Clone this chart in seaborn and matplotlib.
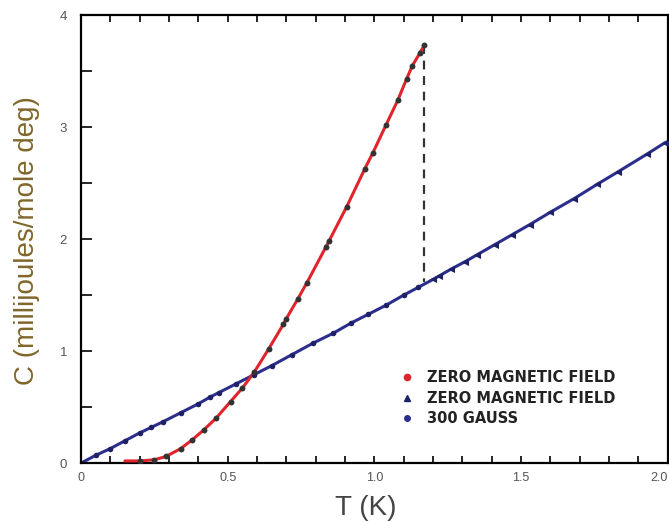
import matplotlib

matplotlib.use("Agg")
import matplotlib.pyplot as plt
import pandas as pd
import seaborn as sns
from matplotlib.lines import Line2D
from matplotlib.ticker import MultipleLocator

# superconducting state, zero magnetic field (red curve)
sc_T = [0.15, 0.20, 0.25, 0.29, 0.34, 0.38, 0.42, 0.46, 0.51, 0.55, 0.59, 0.64,
        0.69, 0.70, 0.74, 0.77, 0.835, 0.845, 0.906, 0.968, 0.995, 1.04, 1.08,
        1.11, 1.13, 1.155, 1.17]
sc_C = [0.02, 0.02, 0.03, 0.06, 0.13, 0.21, 0.30, 0.40, 0.55, 0.67, 0.81, 1.02,
        1.24, 1.29, 1.47, 1.61, 1.93, 1.98, 2.29, 2.63, 2.77, 3.02, 3.24,
        3.43, 3.55, 3.66, 3.73]

# normal state, 300 gauss (dots on the blue line)
g300_T = [0.05, 0.10, 0.15, 0.20, 0.24, 0.28, 0.34, 0.40, 0.44, 0.47, 0.53, 0.59,
          0.65, 0.72, 0.79, 0.86, 0.92, 0.98, 1.04, 1.10, 1.15]
g300_C = [0.07, 0.13, 0.20, 0.27, 0.32, 0.37, 0.45, 0.53, 0.59, 0.63, 0.71, 0.79,
          0.87, 0.97, 1.07, 1.16, 1.25, 1.33, 1.41, 1.50, 1.57]

# normal state, zero field above Tc (triangles on the blue line)
zn_T = [1.20, 1.22, 1.26, 1.31, 1.35, 1.41, 1.47, 1.53, 1.60, 1.68, 1.76, 1.83,
        1.93, 1.99]
zn_C = [1.64, 1.67, 1.73, 1.80, 1.86, 1.95, 2.04, 2.13, 2.24, 2.36, 2.49, 2.60,
        2.76, 2.86]

# ends of the drawn normal-state line
line_ends_T = [0.0, 2.0]
line_ends_C = [0.0, 2.87]

# jump at Tc (dashed line)
tc = 1.17
jump_C = [3.73, 1.62]

x_ticks = [0, 0.5, 1.0, 1.5, 2.0]
x_tick_labels = ["0", "0.5", "1.0", "1.5", "2.0"]
y_ticks = [0, 1, 2, 3, 4]
legend_labels = ["ZERO MAGNETIC FIELD", "ZERO MAGNETIC FIELD", "300 GAUSS"]

RED = "#e0242c"
NAVY = "#2b2e8c"
MARK = "#333333"
MARK_BLUE = "#1e2168"

sns.set_theme(style="white")
plt.rcParams["font.family"] = ["Liberation Sans", "DejaVu Sans"]

sc = pd.DataFrame({"T": sc_T, "C": sc_C})
normal = pd.DataFrame({
    "T": [line_ends_T[0]] + g300_T + zn_T + [line_ends_T[1]],
    "C": [line_ends_C[0]] + g300_C + zn_C + [line_ends_C[1]],
})
g300 = pd.DataFrame({"T": g300_T, "C": g300_C})
zn = pd.DataFrame({"T": zn_T, "C": zn_C})

fig = plt.figure(figsize=(6.69, 5.21), dpi=100)
ax = fig.add_axes([0.121, 0.111, 0.877, 0.86])

sns.lineplot(data=normal, x="T", y="C", ax=ax, color=NAVY, lw=2.2,
             sort=False, estimator=None)
sns.scatterplot(data=g300, x="T", y="C", ax=ax, color=MARK_BLUE, marker="o",
                s=16, linewidth=0, zorder=4)
sns.scatterplot(data=zn, x="T", y="C", ax=ax, color=MARK_BLUE, marker="<",
                s=26, linewidth=0, zorder=4)
sns.lineplot(data=sc, x="T", y="C", ax=ax, color=RED, lw=2.2,
             sort=False, estimator=None, zorder=3)
sns.scatterplot(data=sc.iloc[1:], x="T", y="C", ax=ax, color=MARK, marker="o",
                s=18, linewidth=0, zorder=5)
ax.plot([tc, tc], jump_C, color="#333333", lw=1.6, ls=(0, (4, 3)), zorder=2)

ax.set_xlim(0, 2.0)
ax.set_ylim(0, 4)
ax.set_xticks(x_ticks)
ax.set_xticklabels(x_tick_labels)
ax.set_yticks(y_ticks)
ax.xaxis.set_minor_locator(MultipleLocator(0.1))
ax.yaxis.set_minor_locator(MultipleLocator(0.5))
ax.tick_params(axis="x", which="both", direction="in", top=True, bottom=True,
               length=5, width=1.2, color="black", labelsize=9,
               labelcolor="#555555", pad=6)
ax.tick_params(axis="y", which="both", direction="in", left=True, right=False,
               length=8, width=1.2, color="black", labelsize=9.5,
               labelcolor="#555555", pad=10)
# the last label sits on the right edge of the picture
ax.get_xticklabels()[-1].set_horizontalalignment("right")
for side in ax.spines.values():
    side.set_color("black")
    side.set_linewidth(1.6)

ax.set_xlabel("T (K)", fontsize=20, color="#444444")
ax.set_ylabel("C (millijoules/mole deg)", fontsize=20, color="#80662a")
ax.xaxis.set_label_coords(0.486, -0.07)
ax.yaxis.set_label_coords(-0.07, 0.496)

handles = [
    Line2D([], [], ls="none", marker="o", ms=4.5, color=RED),
    Line2D([], [], ls="none", marker="^", ms=4.5, color=MARK_BLUE),
    Line2D([], [], ls="none", marker="o", ms=4, color=NAVY),
]
leg = ax.legend(handles, legend_labels, loc="center left",
                bbox_to_anchor=(0.531, 0.145), frameon=False, borderpad=0,
                handlelength=1.0, handletextpad=0.9, labelspacing=0.37,
                prop={"family": "DejaVu Sans", "weight": "bold", "size": 10.5})
for t in leg.get_texts():
    t.set_color("#222222")

fig.savefig("out.png", dpi=100)
